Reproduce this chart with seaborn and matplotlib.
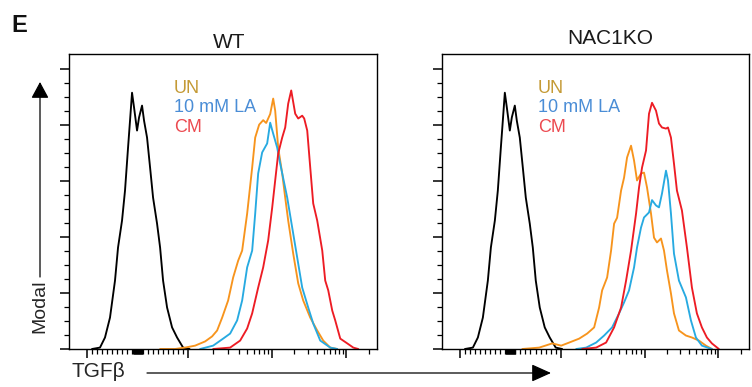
import numpy as np
import pandas as pd
import matplotlib
matplotlib.use("Agg")
import matplotlib.pyplot as plt
import seaborn as sns
from matplotlib.patches import FancyArrowPatch
from matplotlib.scale import FuncScale

sns.set_style("ticks")
plt.rcParams["font.family"] = ["Liberation Sans", "DejaVu Sans"]

# ---------------- data (TGF-beta intensity vs % of max) ----------------
ctrl_x = [-901, -743, -644, -545, -446, -386, -307, -248, -188, -149, -109, -69, -10,
          30, 89, 129, 188, 248, 307, 386, 446, 505, 584, 683, 782, 901, 1040]
ctrl_y = [0, 0.5, 4.1, 11.2, 24.4, 36.2, 45.8, 56.5, 71.8, 81.4, 91.4, 86.1, 77.9,
          82.6, 86.8, 81.4, 75.4, 64.7, 54.0, 44.7, 36.2, 24.4, 14.8, 7.7, 4.1, 0.5, 0]

wt_un_x = [446, 743, 940, 1211, 1594, 1931, 2214, 2541, 2993, 3434, 3939, 4394, 5038, 5780,
           6280, 7000, 7814, 8483, 9470, 10316, 10977, 12050, 13650, 14990, 16450, 19230,
           22460, 26240, 32640, 40540, 48870, 60790, 75520]
wt_un_y = [0, 0, 0.5, 1.2, 2.7, 4.5, 6.6, 11.2, 17.3, 25.5, 31.5, 35.1, 48.3, 64.7,
           75.4, 80.0, 81.6, 80.6, 83.8, 89.3, 85.0, 71.8, 62.6, 54.0, 45.8, 34.0,
           23.4, 17.3, 11.2, 6.6, 3.0, 0.5, 0]

wt_la_x = [1389, 1986, 2610, 3162, 3830, 4394, 5038, 5780, 6280, 6813, 7600, 8714, 9470,
           10316, 11684, 12830, 15950, 18630, 21770, 25430, 30630, 35800, 44550, 60790, 75520]
wt_la_y = [0, 1.2, 3.7, 5.5, 10.2, 17.3, 29.1, 35.1, 48.3, 62.6, 70.1, 73.3, 80.7,
           76.8, 71.8, 66.1, 54.0, 43.3, 32.6, 21.9, 14.8, 9.1, 3.0, 0.5, 0]

wt_cm_x = [1986, 3162, 4159, 5038, 5780, 6813, 7814, 8960, 10000, 10977, 12050, 13650,
           14990, 16450, 18070, 20460, 22460, 25430, 27060, 29720, 32640, 35800, 40540,
           47410, 52000, 57130, 64680, 70950, 82980, 103160, 124400, 145200]
wt_cm_y = [0, 0.5, 3.0, 7.3, 12.7, 21.9, 29.1, 38.7, 50.4, 60.1, 69.7, 75.4,
           79.0, 87.5, 92.2, 83.9, 82.2, 83.2, 82.2, 77.9, 64.7, 51.9, 45.8,
           35.1, 24.4, 20.9, 13.7, 10.2, 3.7, 2.0, 0.5, 0]

ko_un_x = [238, 574, 832, 1014, 1262, 1661, 2067, 2505, 2872, 3119, 3578, 3990, 4335,
           4707, 5250, 5700, 6190, 6905, 7500, 8140, 9080, 9860, 10810, 12240, 13440,
           14750, 16710, 18350, 20140, 22800, 25060, 29250, 36370, 43850, 54500, 67800, 81700]
ko_un_y = [0, 0.5, 2.0, 1.2, 2.3, 3.7, 5.5, 7.7, 14.8, 20.9, 25.5, 35.1, 44.7,
           46.8, 56.5, 61.1, 68.3, 72.5, 67.2, 60.1, 62.6, 62.9, 57.6, 48.3, 39.7,
           38.0, 39.4, 35.1, 28.0, 19.8, 12.7, 6.6, 4.8, 4.1, 3.0, 1.2, 0]

ko_la_x = [1530, 2013, 2647, 3296, 4104, 4970, 5700, 6535, 7500, 8140, 9080, 9860,
           11500, 12630, 14300, 15700, 17230, 19530, 20790, 22800, 25060, 29250, 36370,
           42500, 49660, 59840, 81700]
ko_la_y = [0, 0.5, 2.3, 4.8, 7.7, 12.7, 16.6, 20.9, 29.1, 36.2, 43.3, 46.9,
           48.7, 53.1, 51.2, 50.5, 55.4, 63.6, 60.1, 48.3, 34.0, 24.4, 18.4,
           10.2, 4.1, 1.2, 0]

ko_cm_x = [1803, 2647, 3480, 4335, 5250, 6026, 6905, 7925, 8600, 9340, 10480, 11500,
           12630, 14300, 15700, 17230, 19530, 20790, 22800, 25060, 27480, 32110, 37530,
           43850, 51200, 59840, 69930, 81700, 101600]
ko_cm_y = [0, 0.5, 2.3, 7.7, 14.8, 24.4, 35.1, 48.3, 57.6, 64.7, 70.8, 83.9,
           87.8, 85.0, 80.4, 79.0, 78.6, 79.0, 75.4, 66.1, 56.5, 49.4, 36.2,
           21.9, 12.7, 7.7, 4.1, 2.0, 0]

conditions = ["ctrl", "UN", "10 mM LA", "CM"]
legend_labels = ["UN", "10 mM LA", "CM"]
panel_titles = ["WT", "NAC1KO"]

line_colors = {"ctrl": "#000000", "UN": "#F7941D", "10 mM LA": "#27AAE1", "CM": "#ED1C24"}
text_colors = {"UN": "#C49A35", "10 mM LA": "#4A8DD6", "CM": "#EC4A50"}


def frame(xs, ys, cond):
    return pd.DataFrame({"intensity": xs, "modal": ys, "cond": cond})


panels = [
    pd.concat([frame(ctrl_x, ctrl_y, "ctrl"), frame(wt_un_x, wt_un_y, "UN"),
               frame(wt_la_x, wt_la_y, "10 mM LA"), frame(wt_cm_x, wt_cm_y, "CM")]),
    pd.concat([frame(ctrl_x, ctrl_y, "ctrl"), frame(ko_un_x, ko_un_y, "UN"),
               frame(ko_la_x, ko_la_y, "10 mM LA"), frame(ko_cm_x, ko_cm_y, "CM")]),
]

# ---------------- biexponential-like axis scale ----------------
_T = np.array([-2.0, 1.0, 2.0, 3.0, 5.0])
_U = np.array([-101.0, 50.5, 134.5, 208.5, 356.5])


def fwd(v):
    v = np.asarray(v, dtype=float)
    with np.errstate(divide="ignore", invalid="ignore"):
        lg = 1 + np.log10(np.maximum(v, 1e-9) / 1000.0)
    t = np.where(v <= 1000, v / 1000.0, lg)
    return np.interp(t, _T, _U)


def inv(u):
    u = np.asarray(u, dtype=float)
    t = np.interp(u, _U, _T)
    return np.where(t <= 1, t * 1000.0, 1000.0 * 10 ** (t - 1))


major_x = [-1000, 1000, 10000, 100000]
minor_x = ([-k * 100 for k in range(1, 10)] + [k * 100 for k in range(1, 10)]
           + [-k * 10 for k in range(1, 10)] + [k * 10 for k in range(0, 10)]
           + [k * 1000 for k in range(2, 10)] + [k * 10000 for k in range(2, 10)] + [200000])

W, H = 752, 387
fig = plt.figure(figsize=(W / 100, H / 100), dpi=100)
axes = [fig.add_axes([69 / W, 38 / H, 308 / W, 295 / H]),
        fig.add_axes([442 / W, 38 / H, 307 / W, 295 / H])]

for ax, df in zip(axes, panels):
    sns.lineplot(data=df, x="intensity", y="modal", hue="cond", hue_order=conditions,
                 palette=line_colors, sort=False, estimator=None, legend=False,
                 linewidth=1.35, ax=ax)
    ax.set_xscale(FuncScale(ax.xaxis, (fwd, inv)))
    ax.set_xlim(-1356, 260000)
    ax.set_ylim(0, 105.2)
    ax.set_xticks(major_x)
    ax.set_xticks(minor_x, minor=True)
    ax.set_yticks(np.arange(0, 101, 20))
    ax.set_yticks(np.arange(0, 101, 5), minor=True)
    ax.set_xticklabels([])
    ax.set_yticklabels([])
    ax.tick_params(which="major", length=6.5, width=1.1, color="black", direction="out")
    ax.tick_params(which="minor", length=3.5, width=0.9, color="black", direction="out")
    ax.set_xlabel("")
    ax.set_ylabel("")
    for sp in ax.spines.values():
        sp.set_visible(True)
        sp.set_color("black")
        sp.set_linewidth(1.0)


def fx(x):
    return x / W


def fy(y):
    return 1 - y / H


# titles
fig.text(fx(229), fy(48), panel_titles[0], ha="center", va="baseline", fontsize=15, color="#1a1a1a")
fig.text(fx(610), fy(44), panel_titles[1], ha="center", va="baseline", fontsize=15, color="#1a1a1a")

# in-panel legends
for x0 in (174, 538):
    for lab, yb in zip(legend_labels, (93, 112, 132)):
        fig.text(fx(x0), fy(yb), lab, ha="left", va="baseline", fontsize=13,
                 color=text_colors[lab])

# panel letter
fig.text(fx(11), fy(32), "E", ha="left", va="baseline", fontsize=17,
         family=["Liberation Sans", "DejaVu Sans"], weight="bold", color="#111111")

# axis labels with arrows
fig.text(fx(40), fy(306), "Modal", rotation=90, ha="center", va="center", fontsize=14)
fig.text(fx(72), fy(377), "TGFβ", ha="left", va="baseline", fontsize=15)

arr_y = FancyArrowPatch((fx(40), fy(277)), (fx(40), fy(82)), transform=fig.transFigure,
                        arrowstyle="-|>,head_length=10,head_width=5.4", mutation_scale=1,
                        shrinkA=0, shrinkB=0, color="black", linewidth=0.9)
arr_x = FancyArrowPatch((fx(147), fy(373)), (fx(551), fy(373)), transform=fig.transFigure,
                        arrowstyle="-|>,head_length=12,head_width=5.4", mutation_scale=1,
                        shrinkA=0, shrinkB=0, color="black", linewidth=0.9)
fig.patches.extend([arr_y, arr_x])

fig.savefig("out.png", dpi=100)
